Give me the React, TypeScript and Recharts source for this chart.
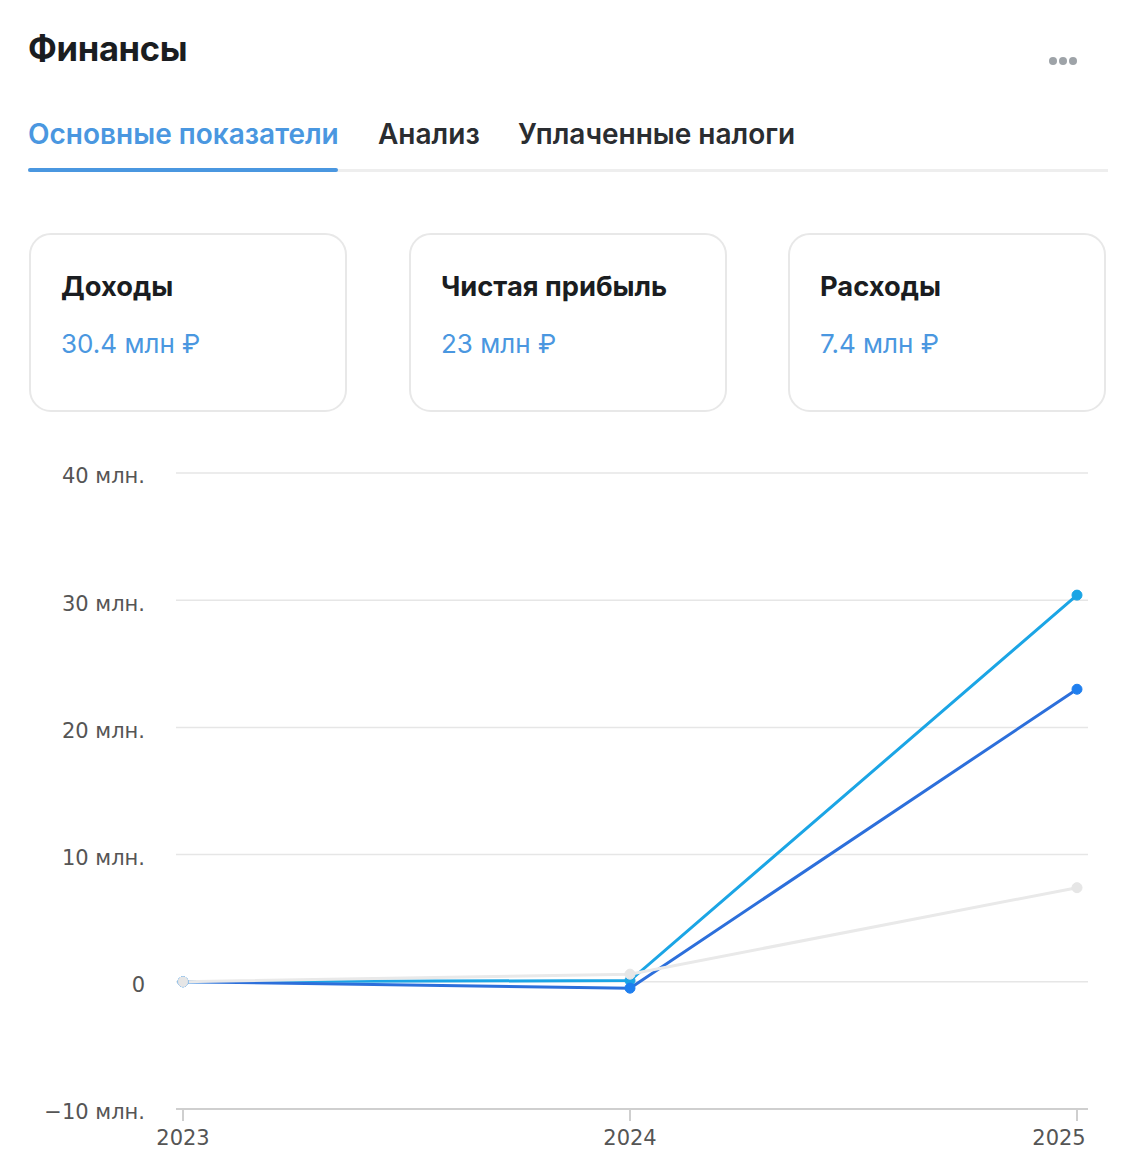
import React from 'react';
import { LineChart, Line, XAxis, YAxis, CartesianGrid } from 'recharts';

const years = ['2023', '2024', '2025'];
const revenue = [0, 0.1, 30.4];
const profit = [0, -0.5, 23];
const expenses = [0, 0.6, 7.4];
const yTicks = [-10, 0, 10, 20, 30, 40];

const cards = [
  { label: 'Доходы', value: '30.4 млн ₽', left: 29 },
  { label: 'Чистая прибыль', value: '23 млн ₽', left: 409 },
  { label: 'Расходы', value: '7.4 млн ₽', left: 788 },
];

const data = years.map((y, i) => ({
  year: y,
  revenue: revenue[i],
  profit: profit[i],
  expenses: expenses[i],
}));

const UI_FONT = 'Inter, "Noto Sans", sans-serif';
const AXIS_FONT = '"DejaVu Sans", Verdana, sans-serif';

const fmtTick = (v: number) => (v === 0 ? '0' : `${v < 0 ? '\u2212' + Math.abs(v) : v} млн.`);

// last year label is pulled left so it stays inside the card
const YearTick = (props: any) => {
  const { x, y, payload, index } = props;
  const shift = index === years.length - 1 ? -18 : 0;
  return (
    <text x={x + shift} y={y + 5} textAnchor="middle" dominantBaseline="hanging" fill="#555" fontSize={21} fontFamily={AXIS_FONT}>
      {payload.value}
    </text>
  );
};

const App: React.FC = () => {
  return (
    <div style={{ position: 'absolute', left: 0, top: 0, width: 1138, height: 1170, background: '#fff', fontFamily: UI_FONT }}>
      {/* header */}
      <div style={{ position: 'absolute', left: 28, top: 28, fontSize: 34.5, fontWeight: 700, color: '#1a1d21', letterSpacing: -0.3 }}>
        Финансы
      </div>
      <div style={{ position: 'absolute', left: 1049, top: 57, display: 'flex', gap: 2 }}>
        {[0, 1, 2].map(i => (
          <div key={i} style={{ width: 8, height: 8, borderRadius: 4, background: '#9ea3a8' }} />
        ))}
      </div>

      {/* tabs */}
      <div style={{ position: 'absolute', left: 28, top: 117, fontSize: 28, fontWeight: 600, color: '#4a97e0' }}>
        Основные показатели
      </div>
      <div style={{ position: 'absolute', left: 378, top: 117, fontSize: 28, fontWeight: 600, color: '#2a2d31' }}>Анализ</div>
      <div style={{ position: 'absolute', left: 518, top: 117, fontSize: 28, fontWeight: 600, color: '#2a2d31' }}>
        Уплаченные налоги
      </div>
      <div style={{ position: 'absolute', left: 28, top: 169, width: 1080, height: 3, background: '#eeeeee' }} />
      <div style={{ position: 'absolute', left: 28, top: 168, width: 310, height: 4, borderRadius: 2, background: '#4a97e0' }} />

      {/* summary cards */}
      {cards.map(c => (
        <div
          key={c.label}
          style={{
            position: 'absolute',
            left: c.left,
            top: 233,
            width: 318,
            height: 179,
            boxSizing: 'border-box',
            border: '2px solid #e8e8e8',
            borderRadius: 22,
          }}
        >
          <div style={{ position: 'absolute', left: 30, top: 35, fontSize: 27.3, fontWeight: 700, color: '#1a1d21' }}>{c.label}</div>
          <div style={{ position: 'absolute', left: 30, top: 93, fontSize: 26, fontWeight: 400, color: '#4a97e0' }}>{c.value}</div>
        </div>
      ))}

      {/* chart */}
      <div style={{ position: 'absolute', left: 0, top: 440 }}>
        <LineChart width={1138} height={720} data={data} margin={{ top: 33, right: 50, bottom: 0, left: 0 }}>
          <CartesianGrid horizontal vertical={false} stroke="#e6e6e6" strokeWidth={1.5} />
          <XAxis
            dataKey="year"
            padding={{ left: 7, right: 11 }}
            height={51}
            stroke="#cfcfcf"
            tickSize={12}
            tickMargin={4}
            tick={<YearTick />}
            axisLine={{ stroke: '#cfcfcf', strokeWidth: 2 }}
            tickLine={{ stroke: '#cfcfcf', strokeWidth: 2 }}
          />
          <YAxis
            width={176}
            domain={[-10, 40]}
            ticks={yTicks}
            tickFormatter={fmtTick}
            axisLine={false}
            tickLine={false}
            tickSize={0}
            tickMargin={31}
            tick={{ fill: '#555', fontSize: 21, fontFamily: AXIS_FONT, dy: 3 }}
          />
          <Line
            dataKey="revenue"
            stroke="#1ba5e5"
            strokeWidth={3}
            dot={{ r: 5, fill: '#1ba5e5', stroke: '#1ba5e5', strokeWidth: 1 }}
            isAnimationActive={false}
          />
          <Line
            dataKey="profit"
            stroke="#2c6fdb"
            strokeWidth={3}
            dot={{ r: 5, fill: '#1f7fef', stroke: '#1f7fef', strokeWidth: 1 }}
            isAnimationActive={false}
          />
          <Line
            dataKey="expenses"
            stroke="#e9e9e9"
            strokeWidth={3}
            dot={{ r: 5, fill: '#e6e6e6', stroke: '#e6e6e6', strokeWidth: 1 }}
            isAnimationActive={false}
          />
        </LineChart>
      </div>
    </div>
  );
};

export default App;
